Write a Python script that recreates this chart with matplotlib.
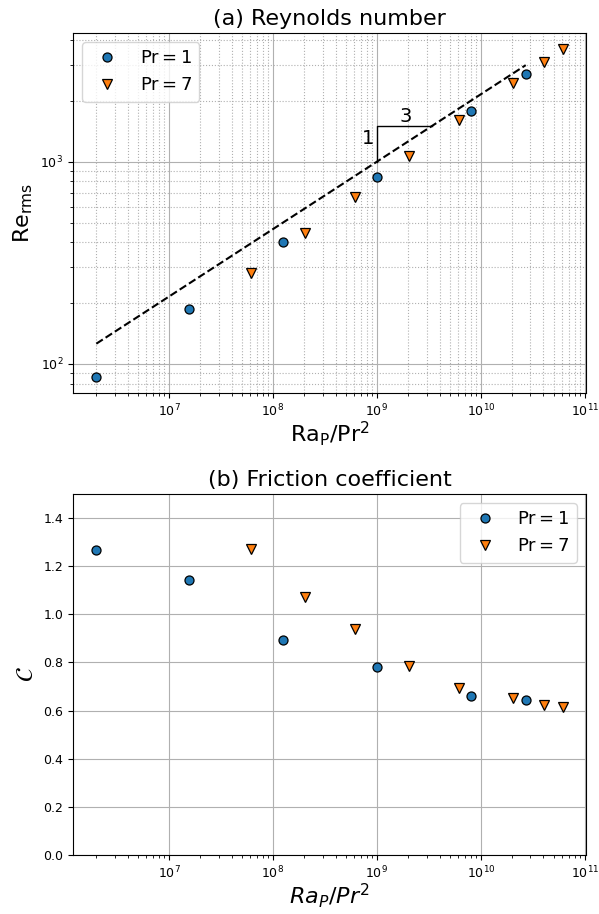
import numpy as np
import matplotlib
matplotlib.use("Agg")
import matplotlib.pyplot as plt

# Data
ra_pr1 = [2.0e6, 1.5625e7, 1.25e8, 1.0e9, 8.0e9, 2.7e10]
re_pr1 = [86.6, 187, 399, 843, 1790, 2710]
c_pr1 = [1.266, 1.144, 0.894, 0.780, 0.661, 0.643]

ra_pr7 = [6.12e7, 2.04e8, 6.12e8, 2.04e9, 6.12e9, 2.04e10, 4.08e10, 6.12e10]
re_pr7 = [282, 443, 667, 1066, 1604, 2449, 3120, 3590]
c_pr7 = [1.270, 1.070, 0.941, 0.787, 0.693, 0.654, 0.624, 0.615]

series_labels = [r'$\mathrm{Pr}=1$', r'$\mathrm{Pr}=7$']

fit_x = [2.0e6, 2.7e10]
fit_prefactor = 1000.0
fit_exponent = 1.0 / 3.0

blue = "#1f77b4"
orange = "#ff7f0e"

fig = plt.figure(figsize=(5.99, 9.14), dpi=100)
ax1 = fig.add_axes([73/599, 1-393/914, 513/599, 360/914])
ax2 = fig.add_axes([73/599, 1-855/914, 513/599, 361/914])

# (a)
ax1.plot(ra_pr1, re_pr1, 'o', color=blue, mec='k', mew=0.9, ms=6.5, ls='none', label=series_labels[0])
ax1.plot(ra_pr7, re_pr7, 'v', color=orange, mec='k', mew=0.9, ms=6.5, ls='none', label=series_labels[1])
fx = np.array(fit_x)
ax1.plot(fx, fit_prefactor * (fx / 1e9) ** fit_exponent, 'k--', lw=1.5)
# slope triangle
x0, x1 = 1e9, 1e9 * 1.5 ** 3
ax1.plot([x0, x0, x1], [1000, 1500, 1500], 'k-', lw=1.0)
ax1.text(8.3e8, 1300, '1', fontsize=14, ha='center', va='center')
ax1.text(1.9e9, 1680, '3', fontsize=14, ha='center', va='center')
ax1.set_xscale('log')
ax1.set_yscale('log')
ax1.grid(True, which='major', color='#b0b0b0', lw=0.8)
ax1.grid(True, which='minor', color='#b0b0b0', lw=0.8, ls=':')
ax1.set_title('(a) Reynolds number', fontsize=16)
ax1.set_xlabel(r'$\mathrm{Ra_P/Pr^2}$', fontsize=16, labelpad=0)
ax1.set_ylabel(r'$\mathrm{Re_{rms}}$', fontsize=16)
ax1.legend(loc='upper left', fontsize=13)

# (b)
ax2.plot(ra_pr1, c_pr1, 'o', color=blue, mec='k', mew=0.9, ms=6.5, ls='none', label=series_labels[0])
ax2.plot(ra_pr7, c_pr7, 'v', color=orange, mec='k', mew=0.9, ms=6.5, ls='none', label=series_labels[1])
ax2.set_xscale('log')
ax2.set_xlim(ax1.get_xlim())
ax2.set_ylim(0, 1.5)
ax2.grid(True, which='major', color='#b0b0b0', lw=0.8)
ax2.set_title('(b) Friction coefficient', fontsize=16)
ax2.set_xlabel(r'$Ra_P/Pr^2$', fontsize=16, labelpad=0)
ax2.set_ylabel(r'$\mathcal{C}$', fontsize=17)
ax2.legend(loc='upper right', fontsize=13)

for ax in (ax1, ax2):
    ax.tick_params(labelsize=9)

fig.savefig('out.png', dpi=100)
